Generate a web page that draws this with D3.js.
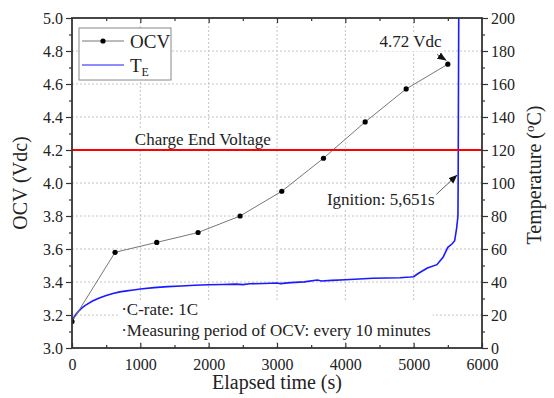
<!DOCTYPE html>
<html>
  <head>
    <meta charset="utf-8">
    <title>OCV and temperature</title>
    <script src="https://cdn.jsdelivr.net/npm/d3@7"></script>
    <style>
      body { margin: 0; background: #fff; }
      text { font-family: "Liberation Serif", "Times New Roman", serif; fill: #222; }
    </style>
  </head>
  <body>
    <svg width="554" height="398" id="mainsvg"></svg>
    <script>
        // data
        const ocvTime  = [0, 630, 1240, 1845, 2460, 3070, 3680, 4290, 4890, 5500];
        const ocvValue = [3.16, 3.58, 3.64, 3.70, 3.80, 3.95, 4.15, 4.37, 4.57, 4.72];

        const tempTime  = [0, 20, 50, 100, 150, 200, 300, 400, 500, 600, 700, 800, 900, 1000,
                           1200, 1400, 1600, 1800, 2000, 2200, 2400, 2500, 2600, 2800, 3000, 3050,
                           3200, 3400, 3590, 3650, 3800, 4000, 4200, 4400, 4600, 4800, 4950, 5000,
                           5060, 5200, 5340, 5430, 5500, 5560, 5600, 5630, 5648, 5651, 5655, 5660];
        const tempValue = [16, 18, 20, 22.5, 24.5, 26, 28.5, 30.3, 31.8, 33, 34, 34.6, 35.2, 35.8,
                           36.6, 37.2, 37.6, 38.0, 38.3, 38.5, 38.7, 38.4, 38.9, 39.1, 39.4, 39.0,
                           39.6, 40.1, 41.2, 40.6, 41.0, 41.4, 41.8, 42.3, 42.4, 42.6, 43.0, 43.2,
                           45, 48.5, 50.5, 55, 61, 63, 65, 73, 80, 100, 150, 205];

        const xTicks    = [0, 1000, 2000, 3000, 4000, 5000, 6000];
        const ocvTicks  = [3.0, 3.2, 3.4, 3.6, 3.8, 4.0, 4.2, 4.4, 4.6, 4.8, 5.0];
        const tempTicks = [0, 20, 40, 60, 80, 100, 120, 140, 160, 180, 200];
        const chargeEnd = 4.2;

        const svg = d3.select('#mainsvg');
        const width = +svg.attr('width');
        const height = +svg.attr('height');
        const margin = {top: 18, right: 72, bottom: 50, left: 72};
        const innerWidth = width - margin.left - margin.right;
        const innerHeight = height - margin.top - margin.bottom;

        svg.append('rect').attr('width', width).attr('height', height).attr('fill', '#fff');

        const g = svg.append('g').attr('transform', `translate(${margin.left}, ${margin.top})`);

        const xScale = d3.scaleLinear().domain([0, 6000]).range([0, innerWidth]);
        const yScale = d3.scaleLinear().domain([3.0, 5.0]).range([innerHeight, 0]);
        const tScale = d3.scaleLinear().domain([0, 200]).range([innerHeight, 0]);

        const xMinor = d3.range(500, 6000, 1000);
        const yMinor = d3.range(3.1, 5.0, 0.2);
        const tMinor = d3.range(10, 200, 20);

        // dashed grid
        const grid = g.append('g').attr('stroke', '#c4c4c4').attr('stroke-dasharray', '2,2').attr('stroke-width', 1);
        xTicks.slice(1, -1).forEach(v => {
          grid.append('line').attr('x1', xScale(v)).attr('x2', xScale(v)).attr('y1', 0).attr('y2', innerHeight);
        });
        ocvTicks.slice(1, -1).forEach(v => {
          grid.append('line').attr('x1', 0).attr('x2', innerWidth).attr('y1', yScale(v)).attr('y2', yScale(v));
        });

        // text with white boxes hiding the grid
        function label(x, y, lines, size, step) {
          const t = g.append('g');
          const box = t.append('rect').attr('fill', '#fff');
          const txt = t.append('text').attr('font-size', size);
          lines.forEach((s, i) => {
            txt.append('tspan').attr('x', x).attr('y', y + i * (step || 19)).text(s);
          });
          const b = txt.node().getBBox();
          box.attr('x', b.x - 2).attr('y', b.y).attr('width', b.width + 4).attr('height', b.height);
          return t;
        }

        label(xScale(920), yScale(4.2) - 5, ['Charge End Voltage'], 17);
        label(xScale(4500), yScale(4.72) - 17, ['4.72 Vdc'], 17);
        label(xScale(3730), tScale(88) + 2, ['Ignition: 5,651s'], 17);
        label(xScale(720), 297, ['\u00B7C-rate: 1C', '\u00B7Measuring period of OCV: every 10 minutes'], 17, 21);

        // clip
        svg.append('defs').append('clipPath').attr('id', 'clip')
          .append('rect').attr('width', innerWidth).attr('height', innerHeight);

        const plot = g.append('g').attr('clip-path', 'url(#clip)');

        // temperature curve
        const tLine = d3.line().x((d, i) => xScale(tempTime[i])).y(d => tScale(d));
        plot.append('path').datum(tempValue).attr('d', tLine)
          .attr('fill', 'none').attr('stroke', '#1a1aff').attr('stroke-width', 1.6);

        // OCV line with dots
        const oLine = d3.line().x((d, i) => xScale(ocvTime[i])).y(d => yScale(d));
        plot.append('path').datum(ocvValue).attr('d', oLine)
          .attr('fill', 'none').attr('stroke', '#777').attr('stroke-width', 1);
        ocvValue.forEach((v, i) => {
          plot.append('circle').attr('cx', xScale(ocvTime[i])).attr('cy', yScale(v)).attr('r', 2.6).attr('fill', '#000');
        });

        // charge end voltage
        g.append('line').attr('x1', 0).attr('x2', innerWidth)
          .attr('y1', yScale(chargeEnd)).attr('y2', yScale(chargeEnd))
          .attr('stroke', '#ff0000').attr('stroke-width', 2);

        // arrows
        const defs = svg.select('defs');
        defs.append('marker').attr('id', 'arr').attr('viewBox', '0 0 10 10')
          .attr('refX', 10).attr('refY', 5).attr('markerWidth', 9).attr('markerHeight', 9)
          .attr('markerUnits', 'userSpaceOnUse').attr('orient', 'auto')
          .append('path').attr('d', 'M0,1 L10,5 L0,9 Z').attr('fill', '#111');
        g.append('line').attr('x1', xScale(5340)).attr('y1', yScale(4.78))
          .attr('x2', xScale(5480)).attr('y2', yScale(4.73) - 2)
          .attr('stroke', '#333').attr('stroke-width', 0.8).attr('marker-end', 'url(#arr)');
        g.append('line').attr('x1', xScale(5330)).attr('y1', tScale(93))
          .attr('x2', xScale(5640)).attr('y2', tScale(105))
          .attr('stroke', '#333').attr('stroke-width', 0.8).attr('marker-end', 'url(#arr)');

        // axes
        const axisColor = '#333';
        function styleAxis(sel) {
          sel.select('.domain').remove();
          sel.attr('font-family', null).attr('font-size', null);
          sel.selectAll('.tick line').attr('stroke', axisColor).attr('stroke-width', 1.2);
          sel.selectAll('.tick text').attr('font-size', 16).attr('fill', '#222');
        }
        function minorAxis(sel) {
          styleAxis(sel);
          sel.selectAll('.tick text').remove();
        }

        g.append('g').call(d3.axisLeft(yScale).tickValues(ocvTicks).tickFormat(d3.format('.1f')).tickSize(6).tickPadding(3)).call(styleAxis);
        g.append('g').call(d3.axisLeft(yScale).tickValues(yMinor).tickSize(3)).call(minorAxis);

        g.append('g').attr('transform', `translate(${innerWidth},0)`)
          .call(d3.axisRight(tScale).tickValues(tempTicks).tickFormat(d3.format('d')).tickSize(6).tickPadding(3)).call(styleAxis);
        g.append('g').attr('transform', `translate(${innerWidth},0)`)
          .call(d3.axisRight(tScale).tickValues(tMinor).tickSize(3)).call(minorAxis);

        g.append('g').attr('transform', `translate(0,${innerHeight})`)
          .call(d3.axisBottom(xScale).tickValues(xTicks).tickFormat(d3.format('d')).tickSize(-5).tickPadding(11)).call(styleAxis);
        g.append('g').attr('transform', `translate(0,${innerHeight})`)
          .call(d3.axisBottom(xScale).tickValues(xMinor).tickSize(-3)).call(minorAxis);

        g.append('g').call(d3.axisTop(xScale).tickValues(xTicks.slice(1, -1)).tickSize(-5)).call(minorAxis);
        g.append('g').call(d3.axisTop(xScale).tickValues(xMinor).tickSize(-3)).call(minorAxis);

        // frame
        g.append('rect').attr('width', innerWidth).attr('height', innerHeight)
          .attr('fill', 'none').attr('stroke', axisColor).attr('stroke-width', 1.8);

        // axis titles
        svg.append('text').text('Elapsed time (s)').attr('font-size', 20)
          .attr('x', margin.left + innerWidth / 2).attr('y', 389).attr('text-anchor', 'middle');
        svg.append('text').text('OCV (Vdc)').attr('font-size', 20)
          .attr('transform', `translate(27, ${margin.top + innerHeight / 2}) rotate(-90)`).attr('text-anchor', 'middle');
        const tt = svg.append('text').attr('font-size', 20).attr('text-anchor', 'middle')
          .attr('transform', `translate(541, ${margin.top + innerHeight / 2 - 8}) rotate(-90)`);
        tt.append('tspan').text('Temperature (');
        tt.append('tspan').text('o').attr('font-size', 13).attr('dy', -7);
        tt.append('tspan').text('C)').attr('dy', 7);

        // legend
        const lg = g.append('g').attr('transform', `translate(7, 10)`);
        lg.append('rect').attr('width', 92).attr('height', 52).attr('fill', '#fff')
          .attr('stroke', '#888').attr('stroke-width', 1);
        lg.append('line').attr('x1', 3).attr('x2', 45).attr('y1', 13).attr('y2', 13).attr('stroke', '#777');
        lg.append('circle').attr('cx', 24).attr('cy', 13).attr('r', 2.6).attr('fill', '#000');
        lg.append('text').text('OCV').attr('x', 51).attr('y', 20).attr('font-size', 19);
        lg.append('line').attr('x1', 3).attr('x2', 45).attr('y1', 37).attr('y2', 37).attr('stroke', '#1a1aff').attr('stroke-width', 1.2);
        const te = lg.append('text').attr('x', 51).attr('y', 44).attr('font-size', 19);
        te.append('tspan').text('T');
        te.append('tspan').text('E').attr('font-size', 12).attr('dy', 4);
    </script>
  </body>
</html>
